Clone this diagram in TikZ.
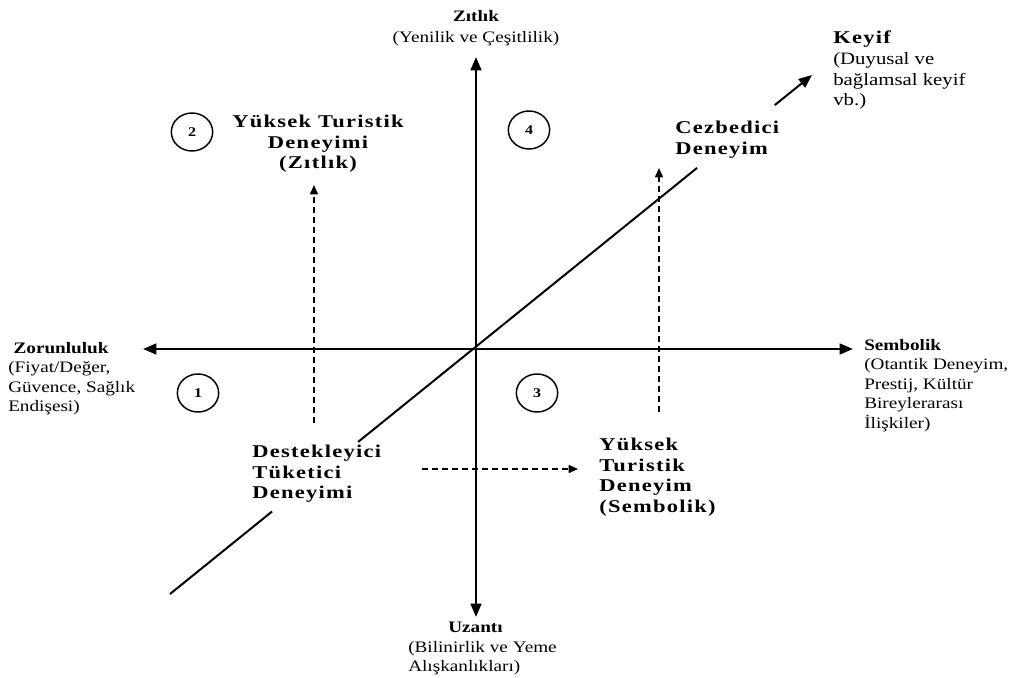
\documentclass[tikz,border=0pt]{standalone}
\usepackage{fontspec}
\setmainfont{Liberation Serif}[FakeStretch=1.2]
\newfontfamily\heavyfont{Liberation Serif}[FakeStretch=1.25,LetterSpace=7]
\usetikzlibrary{arrows.meta,calc,shapes.geometric}

\tikzset{
  axisline/.style={line width=1.8pt, -{Triangle[length=10pt,width=8pt]}},
  diagline/.style={line width=1.5pt},
  dasharrow/.style={line width=1.2pt, dash pattern=on 4.5pt off 3pt,
                    -{Triangle[length=7pt,width=6pt]}},
  numring/.style={draw, line width=1.1pt, ellipse, minimum width=31pt,
                  minimum height=28.5pt, inner sep=0pt,
                  font=\bfseries\fontsize{10}{11}\selectfont},
  smalltxt/.style={inner sep=0pt, font=\fontsize{12}{14.6}\selectfont},
  bigtxt/.style={inner sep=0pt, font=\heavyfont\bfseries\fontsize{13.5}{15.4}\selectfont},
}

\begin{document}
\begin{tikzpicture}[x=0.75pt, y=-0.75pt]
  \useasboundingbox (0,0) rectangle (1014,678);
  \fill[white] (0,0) rectangle (1014,678);

  % axes
  \coordinate (o)   at (476,349);
  \coordinate (top) at (476,57);
  \coordinate (bot) at (476,617);
  \coordinate (lft) at (143,349);
  \coordinate (rgt) at (853,349);
  \draw[axisline] (o) -- (top);
  \draw[axisline] (o) -- (bot);
  \draw[axisline] (o) -- (lft);
  \draw[axisline] (o) -- (rgt);

  % diagonal (broken where labels sit on it)
  \coordinate (dA) at (170,594);
  \coordinate (dB) at (812,75);
  \coordinate (d1) at ($(dA)!0.159!(dB)$);
  \coordinate (d2) at ($(dA)!0.293!(dB)$);
  \coordinate (d3) at ($(dA)!0.821!(dB)$);
  \coordinate (d4) at ($(dA)!0.942!(dB)$);
  \draw[diagline] (dA) -- (d1);
  \draw[diagline] (d2) -- (d3);
  \draw[diagline, -{Triangle[length=10pt,width=8pt]}] (d4) -- (dB);

  % dashed arrows
  \coordinate (lv0) at (314,423);
  \coordinate (lv1) at (314,185);
  \coordinate (rv0) at (659,412);
  \coordinate (rv1) at (659,168);
  \coordinate (hd0) at (422,469);
  \coordinate (hd1) at (578,469);
  \draw[dasharrow] (lv0) -- (lv1);
  \draw[dasharrow] (rv0) -- (rv1);
  \draw[dasharrow] (hd0) -- (hd1);

  % quadrant numbers
  \node[numring] (q2) at (192,132) {2};
  \node[numring] (q4) at (529,130) {4};
  \node[numring] (q1) at (198,393) {1};
  \node[numring] (q3) at (537,393) {3};

  % axis end labels
  \node[smalltxt, anchor=north, align=center, font=\fontsize{12}{15.75}\selectfont]
    (zit) at (476,10) {\textbf{Zıtlık}\\(Yenilik ve Çeşitlilik)};
  \node[smalltxt, anchor=north west, align=left, font=\fontsize{13}{15.5}\selectfont]
    (key) at (833,31) {{\heavyfont\bfseries\fontsize{13.5}{15.5}\selectfont Keyif}\\(Duyusal ve\\bağlamsal keyif\\vb.)};
  \node[smalltxt, anchor=north west, align=left]
    (zor) at (8,342) {\hspace*{4pt}\textbf{Zorunluluk}\\(Fiyat/Değer,\\Güvence, Sağlık\\Endişesi)};
  \node[smalltxt, anchor=north west, align=left]
    (sem) at (864,339) {\textbf{Sembolik}\\(Otantik Deneyim,\\Prestij, Kültür\\Bireylerarası\\İlişkiler)};
  \node[smalltxt, anchor=north west, align=left]
    (uza) at (408,622) {\hspace*{30pt}\textbf{Uzantı}\\(Bilinirlik ve Yeme\\Alışkanlıkları)};

  % experience labels
  \node[bigtxt, anchor=north, align=center]
    (hi2) at (318,115) {Yüksek Turistik\\Deneyimi\\(Zıtlık)};
  \node[bigtxt, anchor=north west, align=left]
    (cez) at (675,121) {Cezbedici\\Deneyim};
  \node[bigtxt, anchor=north west, align=left]
    (des) at (252,445) {Destekleyici\\Tüketici\\Deneyimi};
  \node[bigtxt, anchor=north west, align=left]
    (hi3) at (599,438) {Yüksek\\Turistik\\Deneyim\\(Sembolik)};
\end{tikzpicture}
\end{document}
